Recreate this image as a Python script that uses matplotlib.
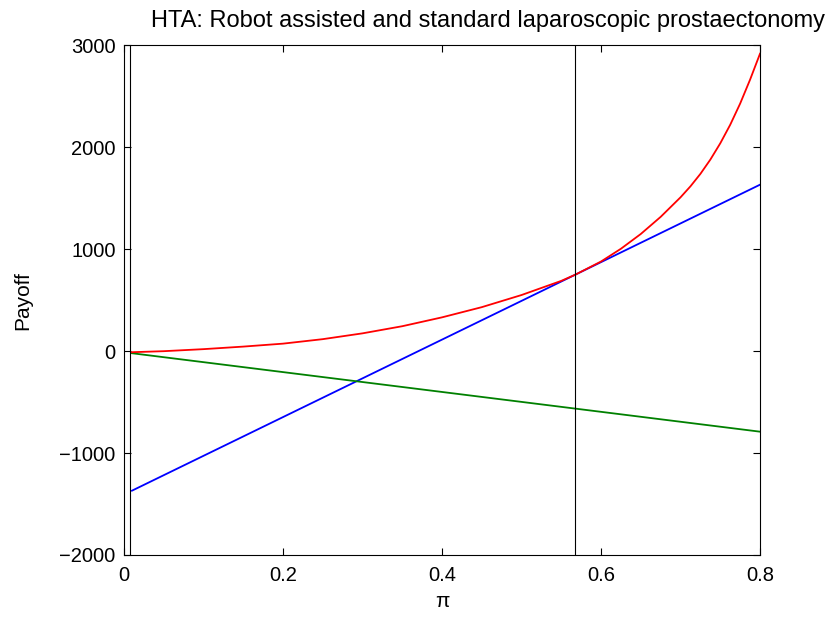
import matplotlib
matplotlib.use("Agg")
import matplotlib.pyplot as plt

plt.rcParams['font.family'] = ['Liberation Sans', 'DejaVu Sans']

# payoff curves against pi
pi_lin = [0.01, 0.8]
robot = [-1369, 1634]
standard = [-20, -790]

pi_opt = [0.01, 0.05, 0.1, 0.15, 0.2, 0.25, 0.3, 0.35, 0.4, 0.45, 0.5,
          0.55, 0.5677, 0.6, 0.625, 0.65, 0.675, 0.7, 0.7125, 0.725,
          0.7375, 0.75, 0.7625, 0.775, 0.7875, 0.8]
option = [-10, 0, 20, 45, 74, 118, 175, 245, 332, 432, 551,
          690, 751, 880, 1005, 1150, 1318, 1510, 1618, 1740,
          1880, 2040, 2222, 2430, 2665, 2920]

# thresholds
pi_marks = [0.0078, 0.5677]

xticks = [0, 0.2, 0.4, 0.6, 0.8]
yticks = [-2000, -1000, 0, 1000, 2000, 3000]

fig = plt.figure(figsize=(8.31, 6.17), dpi=100)
ax = fig.add_axes([0.1492, 0.1005, 0.7654, 0.8258])

ax.plot(pi_lin, robot, color='#0000ff', lw=1.3)
ax.plot(pi_lin, standard, color='#008000', lw=1.3)
ax.plot(pi_opt, option, color='#ff0000', lw=1.3)
for p in pi_marks:
    ax.axvline(p, color='black', lw=0.8)

ax.set_xlim(0, 0.8)
ax.set_ylim(-2000, 3000)
ax.set_xticks(xticks)
ax.set_xticklabels(['0', '0.2', '0.4', '0.6', '0.8'])
ax.set_yticks(yticks)
ax.set_yticklabels(['\u22122000', '\u22121000', '0', '1000', '2000', '3000'])
ax.tick_params(direction='in', top=True, right=True, length=5, width=0.8,
               labelsize=14.5)
ax.tick_params(axis='x', pad=8)
ax.tick_params(axis='y', pad=6)
for s in ax.spines.values():
    s.set_linewidth(0.8)

ax.set_xlabel('π', fontsize=15)
ax.set_ylabel('Payoff', fontsize=15)
ax.xaxis.set_label_coords(0.5, -0.072)
ax.yaxis.set_label_coords(-0.145, 0.5)
fig.text(0.587, 0.966, 'HTA: Robot assisted and standard laparoscopic prostaectonomy',
         ha='center', va='center', fontsize=17)

fig.savefig('out.png', dpi=100)
